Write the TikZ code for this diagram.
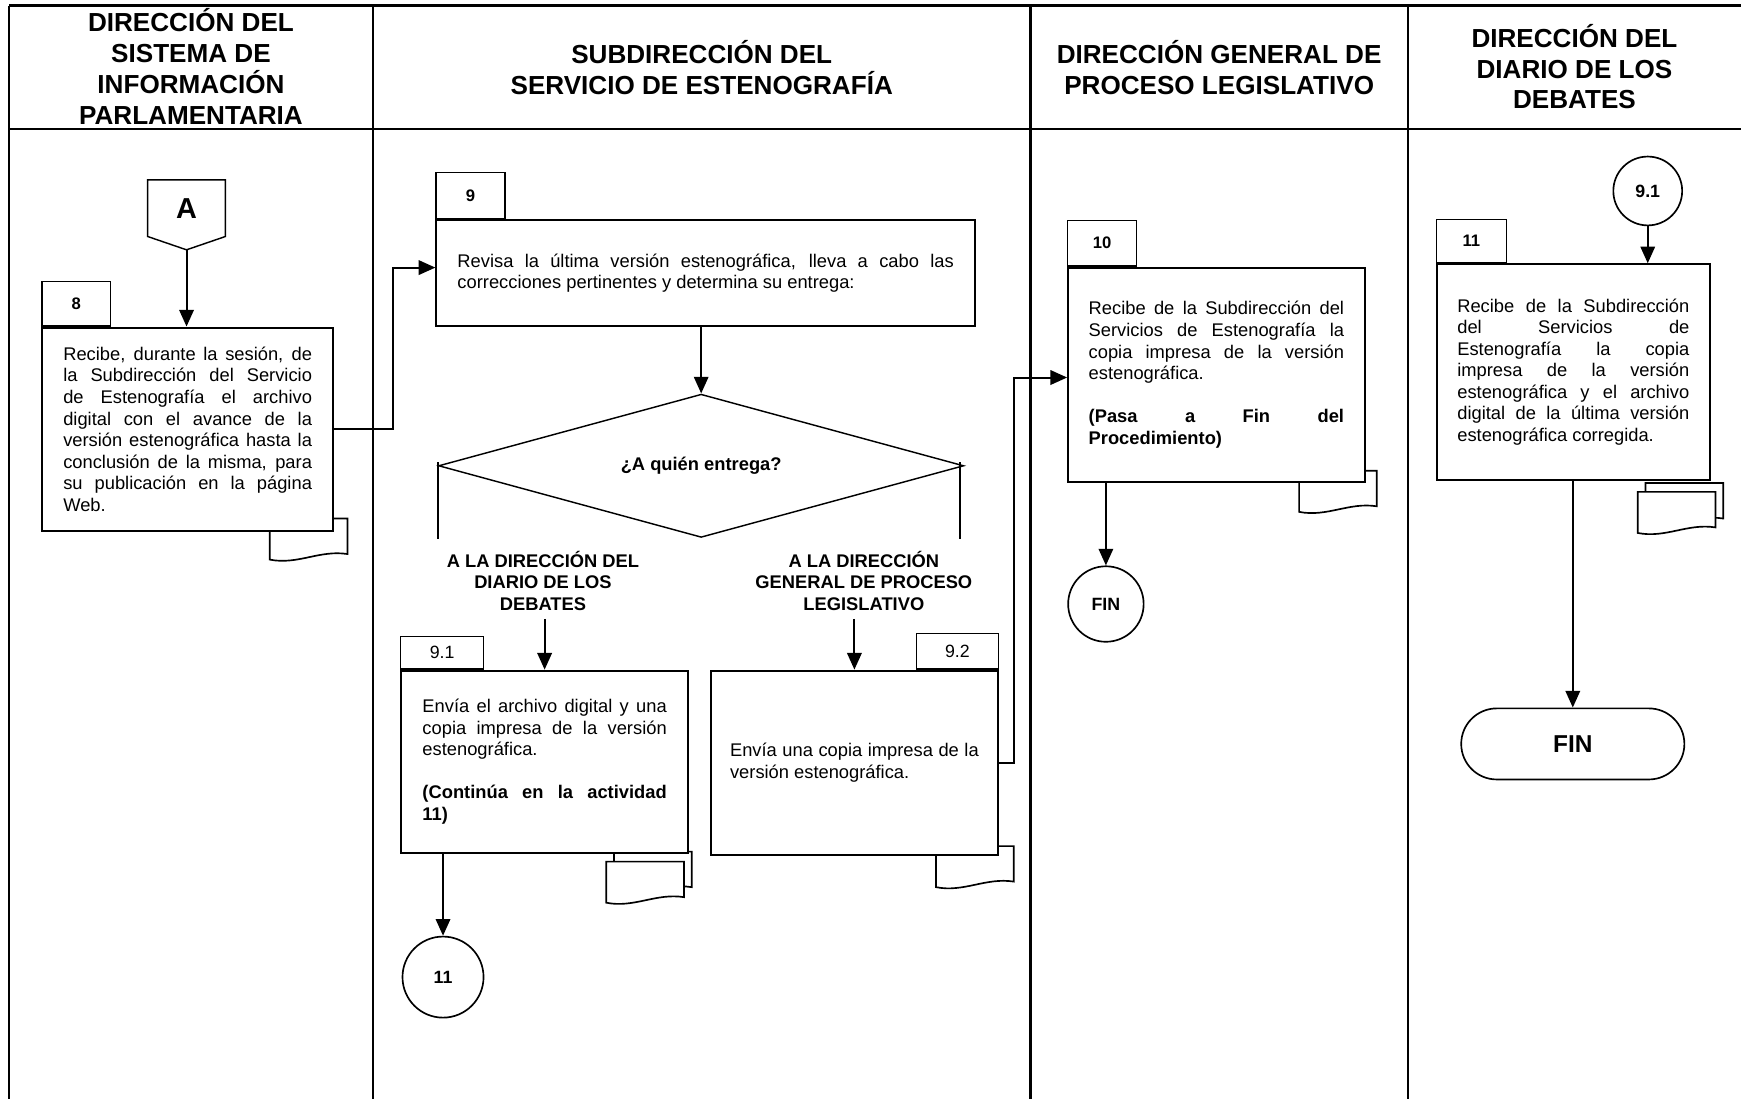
\documentclass[tikz,border=0pt]{standalone}
\usepackage{fontspec}
\setmainfont{Liberation Sans}
\usetikzlibrary{arrows.meta,shapes.geometric,positioning}
\hyphenpenalty=10000

\begin{document}
\begin{tikzpicture}[x=1pt,y=-1pt,
	carril/.style={line width=2pt},
	actividad/.style={draw,line width=1.8pt,fill=white,align=justify,inner sep=0pt,
		font=\fontsize{16.5}{19.4}\selectfont},
	folio/.style={draw,line width=1.2pt,fill=white,inner sep=0pt,
		font=\fontsize{15}{18}\selectfont\bfseries},
	flecha/.style={line width=1.8pt,-{Triangle[length=15pt,width=13pt]}},
	titulo/.style={align=center,font=\fontsize{23.5}{27.8}\selectfont\bfseries},
	rama/.style={align=center,font=\fontsize{16.5}{19.4}\selectfont\bfseries},
	conector/.style={draw,circle,line width=1.5pt,inner sep=0pt,
		font=\fontsize{16}{19}\selectfont\bfseries}]
				\useasboundingbox (0,0) rectangle (1568,990);
				
				\foreach \x in {8,336,928,1268}{
					\draw[carril] (\x,5) -- (\x,990);}
				\draw[carril] (8,5) -- (1568,5);
				\draw[carril] (8,116) -- (1568,116);
				
				\node[titulo] (h1) at (172,60) {DIRECCIÓN DEL\\SISTEMA DE\\INFORMACIÓN\\PARLAMENTARIA};
				\node[titulo] (h2) at (632,61) {SUBDIRECCIÓN DEL\\SERVICIO DE ESTENOGRAFÍA};
				\node[titulo] (h3) at (1098,61) {DIRECCIÓN GENERAL DE\\PROCESO LEGISLATIVO};
				\node[titulo] (h4) at (1418,60) {DIRECCIÓN DEL\\DIARIO DE LOS\\DEBATES};
				
				% documentos
				\foreach \x/\y in {243/467,843/762,1170/424,553/767,546/776,1482/435,1475/443}{
					\draw[line width=1.5pt,fill=white,shift={(\x,\y)}]
					(0,0) -- (70,0) -- (70,32) .. controls (45,28) and (25,42) .. (0,37) -- cycle;}
				
				\coordinate (Apunta) at (168,225);
				\draw[line width=1.3pt] (133,162) -- (203,162) -- (203,213) -- (Apunta) -- (133,213) -- cycle;
				\node[font=\fontsize{26}{30}\selectfont\bfseries] (A) at (168,188) {A};
				
				\node[actividad,minimum width=262pt,minimum height=183pt,text width=224pt] (a8) at (169,386.5)
				{Recibe, durante la sesión, de\linebreak la Subdirección del Servicio\linebreak de Estenografía el archivo\linebreak digital con el avance de la\linebreak versión estenográfica hasta la\linebreak conclusión de la misma, para\linebreak su publicación en la página\linebreak Web.};
				\node[actividad,minimum width=485pt,minimum height=96pt,text width=447pt] (a9) at (635.5,246)
				{Revisa la última versión estenográfica, lleva a cabo las\linebreak correcciones pertinentes y determina su entrega:};
				\node[actividad,minimum width=259pt,minimum height=164pt,text width=220pt] (a91) at (490.5,686)
				{Envía el archivo digital y una\linebreak copia impresa de la versión\linebreak estenográfica.\\[19.4pt]\textbf{(Continúa en la actividad\linebreak 11)}};
				\node[actividad,minimum width=259pt,minimum height=166pt,text width=224pt] (a92) at (769.5,687)
				{Envía una copia impresa de la\linebreak versión estenográfica.};
				\node[actividad,minimum width=267pt,minimum height=193pt,text width=230pt] (a10) at (1095.5,337.5)
				{Recibe de la Subdirección del\linebreak Servicios de Estenografía la\linebreak copia impresa de la versión\linebreak estenográfica.\\[19.4pt]\textbf{(Pasa a Fin del\linebreak Procedimiento)}};
				\node[actividad,minimum width=246pt,minimum height=194pt,text width=209pt] (a11) at (1417,335)
				{Recibe de la Subdirección\linebreak del Servicios de\linebreak Estenografía la copia\linebreak impresa de la versión\linebreak estenográfica y el archivo\linebreak digital de la última versión\linebreak estenográfica corregida.};
				
				\node[folio,anchor=south west,minimum width=62pt,minimum height=40pt] (t8) at (a8.north west) {8};
				\node[folio,anchor=south west,minimum width=62pt,minimum height=41pt] (t9) at (a9.north west) {9};
				\node[folio,anchor=south west,minimum width=75pt,minimum height=29pt,font=\fontsize{16}{19}\selectfont] (t91) at (a91.north west) {9.1};
				\node[folio,anchor=south east,minimum width=74pt,minimum height=32pt,font=\fontsize{16}{19}\selectfont] (t92) at (a92.north east) {9.2};
				\node[folio,anchor=south west,minimum width=62pt,minimum height=41pt] (t10) at (a10.north west) {10};
				\node[folio,anchor=south west,minimum width=63pt,minimum height=39pt] (t11) at (a11.north west) {11};
				
				\node[draw,diamond,aspect=3.67,line width=1.3pt,inner sep=0pt,minimum width=473pt,minimum height=129pt,
				font=\fontsize{16.5}{19.4}\selectfont\bfseries] (dec) at (631.5,419.5) {¿A quién entrega?};
				\node[rama] (r1) at (489,523) {A LA DIRECCIÓN DEL\\DIARIO DE LOS\\DEBATES};
				\node[rama] (r2) at (778,523) {A LA DIRECCIÓN\\GENERAL DE PROCESO\\LEGISLATIVO};
				
				\node[conector,minimum size=73pt] (c11) at (399,880) {11};
				\node[conector,minimum size=68pt] (fin1) at (996,544) {FIN};
				\node[conector,minimum size=62pt] (c91) at (1484,172) {9.1};
				\node[draw,line width=1.5pt,rounded corners=32pt,minimum width=201pt,minimum height=64pt,
				font=\fontsize{22}{26}\selectfont\bfseries] (fin2) at (1416.5,670) {FIN};
				
				\draw[flecha] (Apunta) -- (Apunta |- a8.north);
				\draw[flecha] (a8.east) -- ++(53,0) |- ([yshift=5pt]a9.west);
				\draw[flecha] (a9.south -| dec.north) -- (dec.north);
				\draw[line width=1.8pt] ([yshift=3pt]dec.west) -- ++(0,69);
				\draw[line width=1.8pt] ([xshift=-4pt,yshift=3pt]dec.east) -- ++(0,69);
				\draw[flecha] ([yshift=-4pt]r1.south -| a91.north) -- (a91.north);
				\draw[flecha] ([yshift=-4pt]r2.south -| a92.north) -- (a92.north);
				\draw[flecha] (a91.south -| c11.north) -- (c11.north);
				\draw[flecha] (a92.east) -- ++(13,0) |- ([yshift=-2.5pt]a10.west);
				\draw[flecha] (a10.south -| fin1.north) -- (fin1.north);
				\draw[flecha] (c91.south) -- (c91.south |- a11.north);
				\draw[flecha] (a11.south -| fin2.north) -- (fin2.north);
			\end{tikzpicture}
\end{document}
